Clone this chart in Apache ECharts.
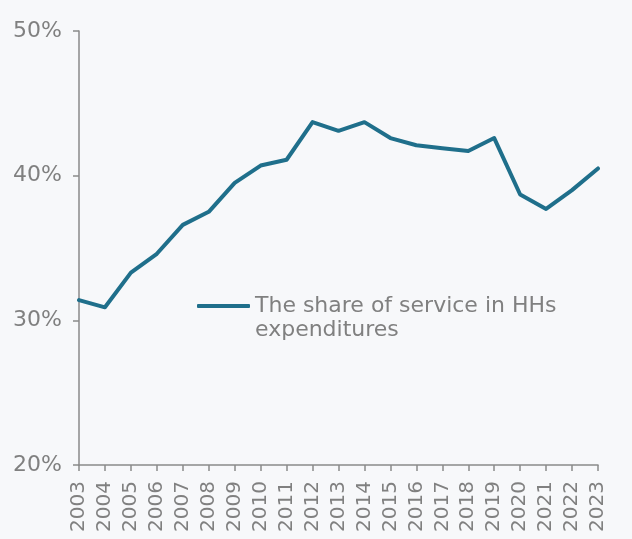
<!DOCTYPE html>
<html>
<head>
<meta charset="utf-8">
<script src="https://cdn.jsdelivr.net/npm/echarts@6/dist/echarts.min.js"></script>
<style>
  html, body { margin: 0; padding: 0; background: #f7f8fa; }
  #chart { width: 632px; height: 539px; }
</style>
</head>
<body>
<div id="chart"></div>
<script>
// Years on the horizontal axis
const years = ['2003','2004','2005','2006','2007','2008','2009','2010','2011','2012',
  '2013','2014','2015','2016','2017','2018','2019','2020','2021','2022','2023'];
// Share of services in household expenditures, percent
const serviceShare = [31.4, 30.9, 33.3, 34.6, 36.6, 37.5, 39.5, 40.7, 41.1, 43.7,
  43.1, 43.7, 42.6, 42.1, 41.9, 41.7, 42.6, 38.7, 37.7, 39.0, 40.5];
const seriesName = 'The share of service in HHs\nexpenditures';

const textColor = '#808080';
const axisColor = '#8a8a8a';
const font = 'DejaVu Sans';

const chart = echarts.init(document.getElementById('chart'), null, { renderer: 'canvas' });
chart.setOption({
  backgroundColor: '#f7f8fa',
  animation: false,
  grid: { left: 79, right: 34, top: 31, bottom: 74, containLabel: false },
  legend: {
    left: 192,
    top: 265,
    data: [seriesName],
    icon: 'roundRect',
    itemWidth: 53,
    itemHeight: 4,
    itemGap: 0,
    // leading blank line keeps the first text line level with the legend line
    formatter: (name) => '\n' + name,
    textStyle: {
      color: textColor,
      fontFamily: font,
      fontSize: 22,
      lineHeight: 24
    },
    selectedMode: false
  },
  xAxis: {
    type: 'category',
    data: years,
    boundaryGap: false,
    axisLine: { lineStyle: { color: axisColor, width: 1.5 } },
    axisTick: { show: true, length: 6, lineStyle: { color: axisColor, width: 1.5 } },
    axisLabel: {
      rotate: 90,
      interval: 0,
      margin: 16,
      color: textColor,
      fontFamily: font,
      fontSize: 20
    },
    splitLine: { show: false }
  },
  yAxis: {
    type: 'value',
    min: 20,
    max: 50,
    interval: 10,
    axisLine: { show: true, lineStyle: { color: axisColor, width: 1.5 } },
    axisTick: { show: true, length: 6, lineStyle: { color: axisColor, width: 1.5 } },
    axisLabel: {
      formatter: '{value}%',
      margin: 17,
      color: textColor,
      fontFamily: font,
      fontSize: 22
    },
    splitLine: { show: false }
  },
  series: [{
    name: seriesName,
    type: 'line',
    data: serviceShare,
    symbol: 'none',
    color: '#1f6f8b',
    lineStyle: { width: 4, color: '#1f6f8b', cap: 'round', join: 'round' }
  }]
});
</script>
</body>
</html>
